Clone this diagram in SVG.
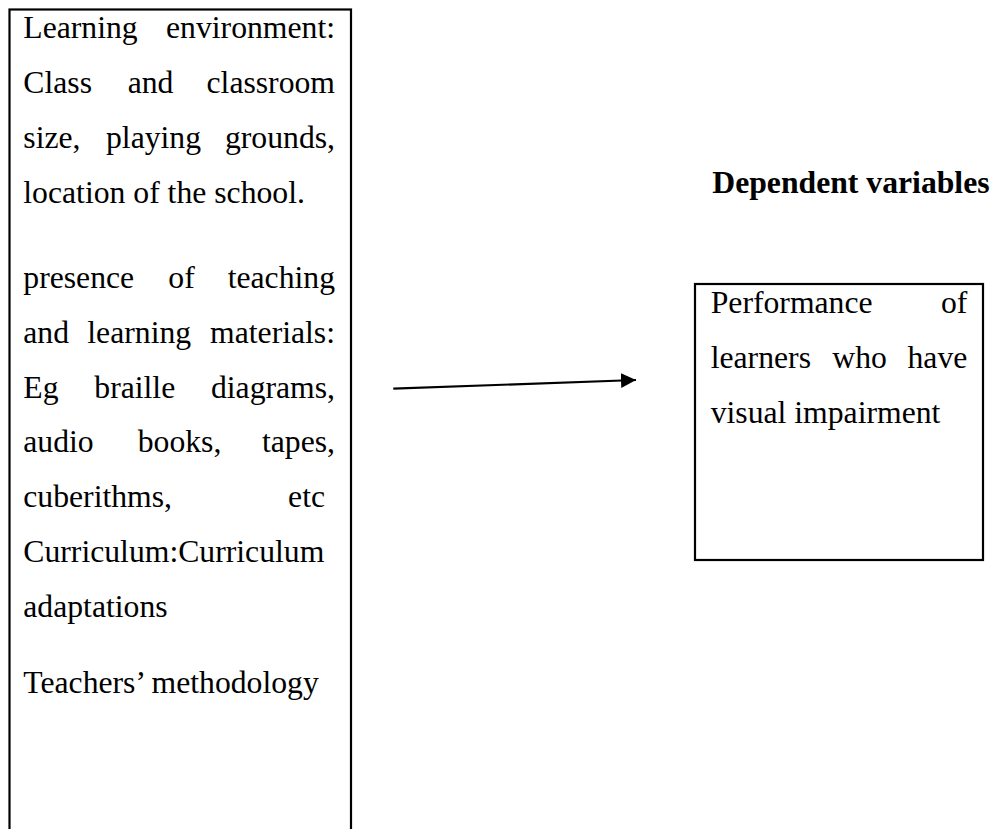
<svg xmlns="http://www.w3.org/2000/svg" width="994" height="829" viewBox="0 0 994 829">
<style>
  .box { fill: #fff; stroke: #000; stroke-width: 2.2; }
  .t { font-family: "Liberation Serif", "Times New Roman", serif; font-size: 31.7px; fill: #000; }
  .b { font-weight: bold; }
  .e { text-anchor: end; }
  .conn { stroke: #000; stroke-width: 2.2; fill: none; }
</style>
<defs>
  <marker id="ah" markerUnits="userSpaceOnUse" markerWidth="16" markerHeight="16" refX="15" refY="7.5" orient="auto">
    <path d="M0,0 L15,7.5 L0,15 Z" fill="#000"/>
  </marker>
</defs>
<rect width="994" height="829" fill="#fff"/>

<g id="independent">
  <rect class="box" x="9.5" y="9.5" width="341.5" height="840"/>
  <text class="t" x="23.3" y="37.5">Learning</text>
  <text class="t e" x="335" y="37.5">environment:</text>
  <text class="t" x="23.3" y="92.5">Class</text>
  <text class="t" x="127.7" y="92.5">and</text>
  <text class="t e" x="335" y="92.5">classroom</text>
  <text class="t" x="23.3" y="147.5">size,</text>
  <text class="t" x="106" y="147.5">playing</text>
  <text class="t e" x="335" y="147.5">grounds,</text>
  <text class="t" x="23.3" y="202.5">location of the school.</text>

  <text class="t" x="23.3" y="288.3">presence</text>
  <text class="t" x="168.3" y="288.3">of</text>
  <text class="t e" x="335" y="288.3">teaching</text>
  <text class="t" x="23.3" y="343">and</text>
  <text class="t" x="87.3" y="343">learning</text>
  <text class="t e" x="335" y="343">materials:</text>
  <text class="t" x="23.3" y="397.7">Eg</text>
  <text class="t" x="94.3" y="397.7">braille</text>
  <text class="t e" x="335" y="397.7">diagrams,</text>
  <text class="t" x="23.3" y="452.4">audio</text>
  <text class="t" x="137.7" y="452.4">books,</text>
  <text class="t e" x="335" y="452.4">tapes,</text>
  <text class="t" x="23.3" y="507.1">cuberithms,</text>
  <text class="t e" x="325" y="507.1">etc</text>
  <text class="t" x="23.3" y="561.8">Curriculum:Curriculum</text>
  <text class="t" x="23.3" y="616.5">adaptations</text>

  <text class="t" x="23.3" y="693.3">Teachers’ methodology</text>
</g>

<g id="dependent-title">
  <text class="t b" x="712.3" y="193.3">Dependent variables</text>
</g>

<g id="dependent">
  <rect class="box" x="695" y="284" width="288" height="276"/>
  <text class="t" x="710.7" y="313.3">Performance</text>
  <text class="t e" x="967.3" y="313.3">of</text>
  <text class="t" x="710.7" y="368">learners</text>
  <text class="t" x="832.3" y="368">who</text>
  <text class="t e" x="967.3" y="368">have</text>
  <text class="t" x="710.7" y="422.7">visual impairment</text>
</g>

<g id="connectors">
  <line class="conn" x1="393.3" y1="388.7" x2="636" y2="380" marker-end="url(#ah)"/>
</g>
</svg>
